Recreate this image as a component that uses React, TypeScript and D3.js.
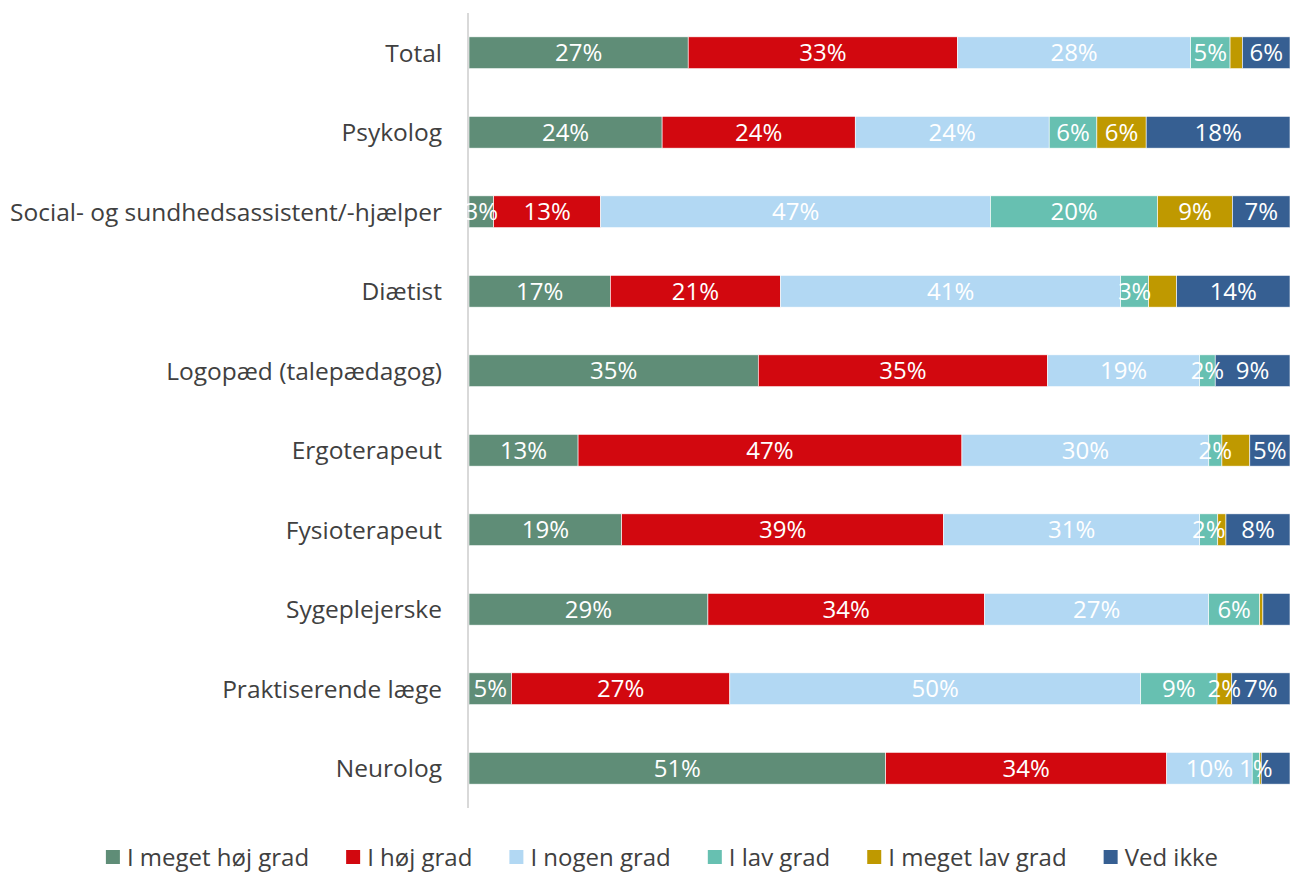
import React, { useEffect, useRef } from "react";
import * as d3 from "d3";

const categories = [
  "Total",
  "Psykolog",
  "Social- og sundhedsassistent/-hjælper",
  "Diætist",
  "Logopæd (talepædagog)",
  "Ergoterapeut",
  "Fysioterapeut",
  "Sygeplejerske",
  "Praktiserende læge",
  "Neurolog",
];

const seriesNames = [
  "I meget høj grad",
  "I høj grad",
  "I nogen grad",
  "I lav grad",
  "I meget lav grad",
  "Ved ikke",
];

const megetHoej = [26.7, 23.5, 3.0, 17.2, 35.2, 13.3, 18.6, 29.1, 5.2, 50.7];
const hoej = [32.8, 23.5, 13.0, 20.7, 35.2, 46.8, 39.2, 33.7, 26.6, 34.2];
const nogen = [28.4, 23.6, 47.4, 41.4, 18.5, 30.1, 31.2, 27.3, 50.1, 10.4];
const lav = [4.8, 5.8, 20.3, 3.4, 1.9, 1.6, 2.2, 6.2, 9.3, 0.9];
const megetLav = [1.5, 6.0, 9.1, 3.4, 0.0, 3.4, 1.0, 0.4, 1.8, 0.2];
const vedIkke = [5.8, 17.5, 7.0, 13.8, 9.1, 4.9, 7.8, 3.3, 7.1, 3.5];

const seriesValues = [megetHoej, hoej, nogen, lav, megetLav, vedIkke];

const colors = ["#5f8d77", "#d2080f", "#b2d8f3", "#67c0b1", "#bf9900", "#365f92"];

// labels not shown in the reference ("seriesIndex:categoryIndex")
const hiddenLabels = [
  "4:0", "4:3", "4:4", "4:5", "4:6", "4:7", "4:9",
  "5:7", "5:9",
];

const FONT = "'Open Sans', sans-serif";

export default function App() {
  const ref = useRef<SVGSVGElement>(null);

  useEffect(() => {
    const svg = d3.select(ref.current);
    svg.selectAll("*").remove();

    const left = 469;
    const right = 1290;
    const top = 13;
    const bottom = 808;

    const x = d3.scaleLinear().domain([0, 1]).range([left, right]);
    const y = d3
      .scaleBand<string>()
      .domain(categories)
      .range([top, bottom])
      .paddingInner(0.6)
      .paddingOuter(0.3);

    const rows = categories.map((c, i) => {
      const row: any = { cat: c };
      const total = d3.sum(seriesValues, (s) => s[i]);
      seriesNames.forEach((n, k) => {
        row[n] = seriesValues[k][i] / total;
      });
      return row;
    });

    const stack = d3.stack<any>().keys(seriesNames);
    const layers = stack(rows);

    const g = svg.append("g");
    layers.forEach((layer, k) => {
      g.selectAll(null)
        .data(layer)
        .join("rect")
        .attr("x", (d) => x(d[0]))
        .attr("y", (d) => y(d.data.cat)!)
        .attr("width", (d) => Math.max(0, x(d[1]) - x(d[0])))
        .attr("height", y.bandwidth())
        .attr("fill", colors[k])
        .attr("stroke", "#ffffff")
        .attr("stroke-width", 0.6);
    });

    // axis line
    svg
      .append("line")
      .attr("x1", left - 1)
      .attr("x2", left - 1)
      .attr("y1", top)
      .attr("y2", bottom)
      .attr("stroke", "#d9d9d9")
      .attr("stroke-width", 2);

    // data labels
    layers.forEach((layer, k) => {
      layer.forEach((d, i) => {
        if (hiddenLabels.includes(`${k}:${i}`)) return;
        const v = seriesValues[k][i];
        if (v <= 0) return;
        svg
          .append("text")
          .attr("x", (x(d[0]) + x(d[1])) / 2)
          .attr("y", y(d.data.cat)! + y.bandwidth() / 2)
          .attr("dy", "0.36em")
          .attr("text-anchor", "middle")
          .attr("font-family", FONT)
          .attr("font-size", 24)
          .attr("fill", "#ffffff")
          .text(`${Math.round(v)}%`);
      });
    });

    // category labels
    categories.forEach((c) => {
      svg
        .append("text")
        .attr("x", left - 27)
        .attr("y", y(c)! + y.bandwidth() / 2)
        .attr("dy", "0.36em")
        .attr("text-anchor", "end")
        .attr("font-family", FONT)
        .attr("font-size", 24.5)
        .attr("fill", "#404040")
        .text(c);
    });

    // legend
    const legend = svg.append("g");
    let cx = 0;
    const sq = 14;
    const gapSq = 7;
    const gapItem = 37;
    seriesNames.forEach((n, k) => {
      const item = legend.append("g").attr("transform", `translate(${cx},0)`);
      item
        .append("rect")
        .attr("x", 0)
        .attr("y", -sq / 2)
        .attr("width", sq)
        .attr("height", sq)
        .attr("fill", colors[k]);
      const t = item
        .append("text")
        .attr("x", sq + gapSq)
        .attr("y", 0)
        .attr("dy", "0.36em")
        .attr("font-family", FONT)
        .attr("font-size", 24)
        .attr("fill", "#404040")
        .text(n);
      const w = (t.node() as SVGTextElement).getComputedTextLength();
      cx += sq + gapSq + w + gapItem;
    });
    const totalW = cx - gapItem;
    const center = 662;
    legend.attr("transform", `translate(${center - totalW / 2},857)`);
  }, []);

  return (
    <svg
      ref={ref}
      width={1290}
      height={875}
      style={{ position: "absolute", left: 0, top: 0, background: "#ffffff" }}
    />
  );
}
